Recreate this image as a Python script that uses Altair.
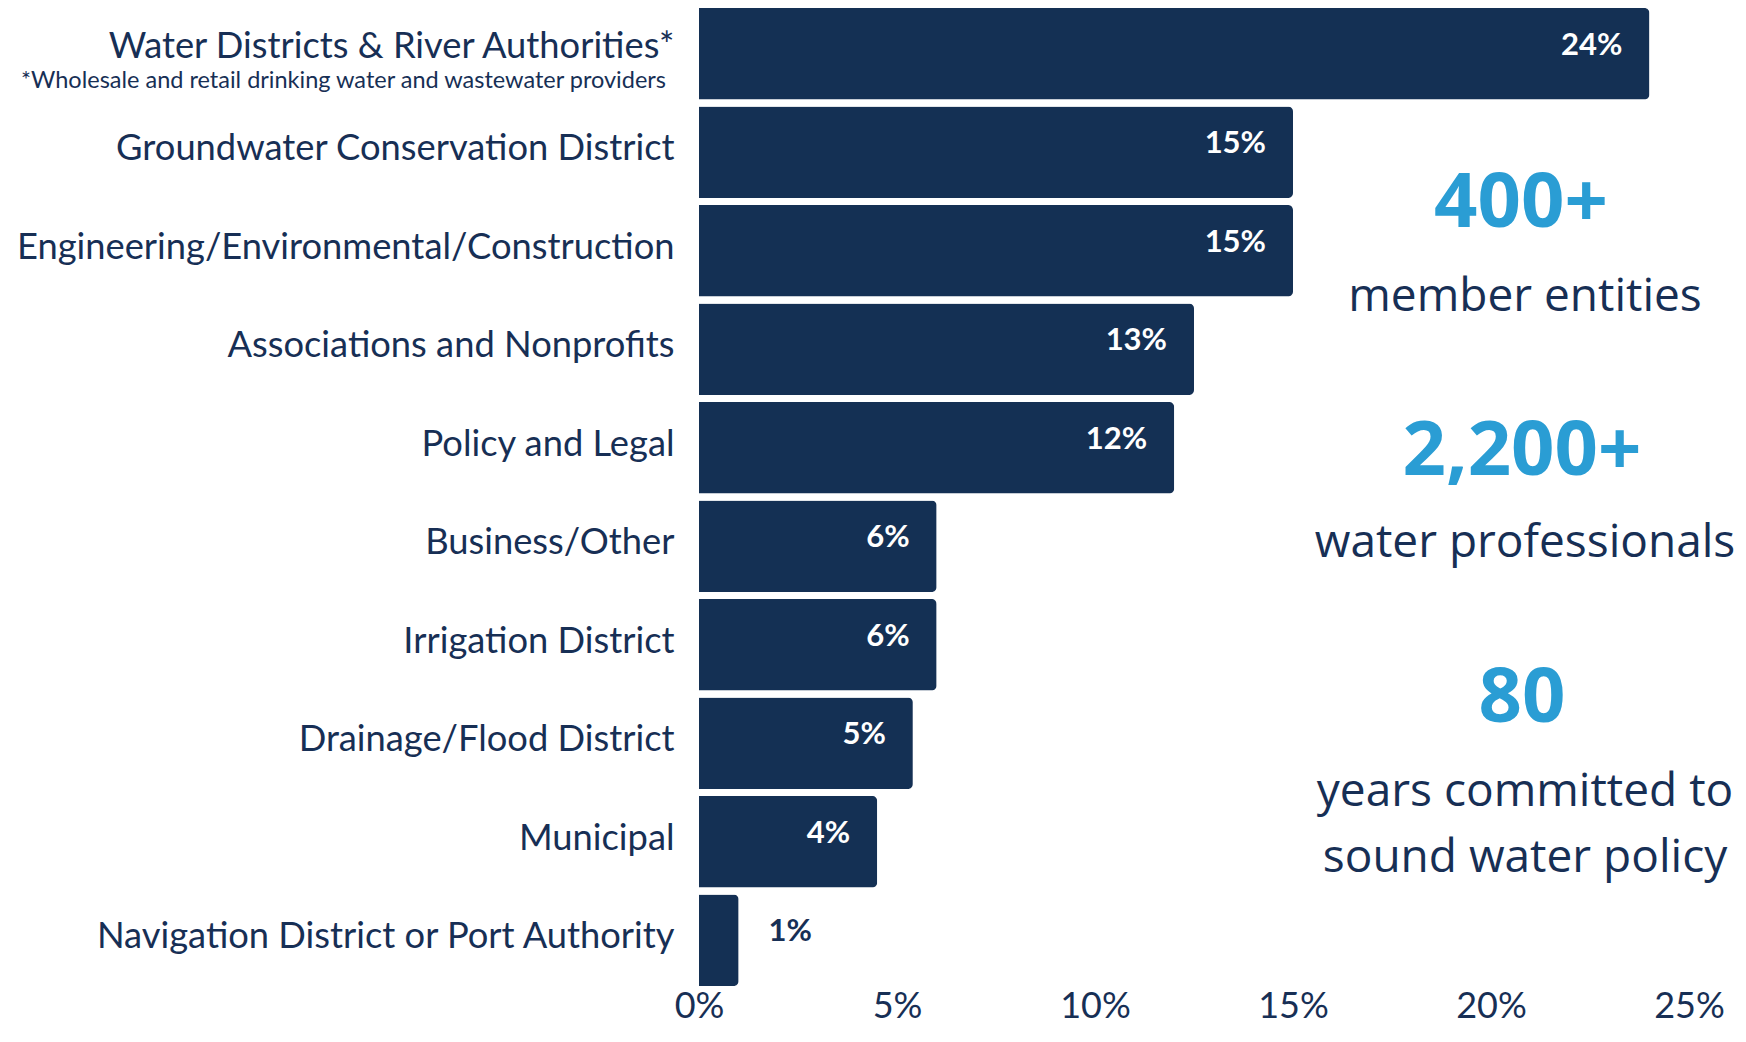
import altair as alt
import pandas as pd

CATEGORIES = [
    "Water Districts & River Authorities*",
    "Groundwater Conservation District",
    "Engineering/Environmental/Construction",
    "Associations and Nonprofits",
    "Policy and Legal",
    "Business/Other",
    "Irrigation District",
    "Drainage/Flood District",
    "Municipal",
    "Navigation District or Port Authority",
]
SHARES = [24.0, 15.0, 15.0, 12.5, 12.0, 6.0, 6.0, 5.4, 4.5, 1.0]
SHARE_LABELS = ["24%", "15%", "15%", "13%", "12%", "6%", "6%", "5%", "4%", "1%"]
FOOTNOTE = "*Wholesale and retail drinking water and wastewater providers"
X_TICKS = [0, 5, 10, 15, 20, 25]
STATS = ["400+", "2,200+", "80"]
STAT_CAPTIONS = ["member entities", "water professionals", "years committed to", "sound water policy"]

NAVY = "#143054"
TEXT = "#172f55"
BLUE = "#2a9dd4"
LEFT_FONT = "Lato"
RIGHT_FONT = "Open Sans"

df = pd.DataFrame({
    "category": CATEGORIES,
    "share": SHARES,
    "label": SHARE_LABELS,
})
df["inside"] = df["share"] >= 2
df["note"] = [FOOTNOTE] + [""] * (len(CATEGORIES) - 1)

first_cat = CATEGORIES[0].replace("'", "\\'")
y_enc = alt.Y(
    "category:N",
    sort=CATEGORIES,
    scale=alt.Scale(paddingInner=0.07, paddingOuter=0),
    axis=alt.Axis(
        title=None, ticks=False, domain=False, labelFontSize=36.3,
        labelFont=LEFT_FONT, labelColor=TEXT, labelPadding=25,
        labelLimit=800,
        labelOffset={"condition": {"test": f"datum.value === '{first_cat}'", "value": -7}, "value": -3},
    ),
)
x_enc = alt.X(
    "share:Q",
    scale=alt.Scale(domain=[0, 25], nice=False),
    axis=alt.Axis(
        title=None, values=X_TICKS, grid=False, ticks=False, domain=False,
        labelExpr="datum.value + '%'", labelFontSize=36, labelFont=LEFT_FONT,
        labelColor=TEXT, labelBaseline="alphabetic", labelPadding=31,
        labelFlush=False,
    ),
)

base = alt.Chart(df)

bars = base.mark_bar(color=NAVY, cornerRadiusTopRight=5, cornerRadiusBottomRight=5).encode(
    x=x_enc, y=y_enc
)

inside_labels = base.transform_filter("datum.inside").mark_text(
    align="right", baseline="middle", dx=-27, dy=-8, color="white",
    font=LEFT_FONT, fontWeight="bold", fontSize=31,
).encode(x="share:Q", y=alt.Y("category:N", sort=CATEGORIES), text="label:N")

outside_labels = base.transform_filter("!datum.inside").mark_text(
    align="left", baseline="middle", dx=30, dy=-8, color=TEXT,
    font=LEFT_FONT, fontWeight="bold", fontSize=31,
).encode(x="share:Q", y=alt.Y("category:N", sort=CATEGORIES), text="label:N")

footnote = base.transform_filter("datum.note != ''").mark_text(
    align="right", baseline="middle", dy=27, color=TEXT,
    font=LEFT_FONT, fontSize=23.5,
).encode(x=alt.value(-33), y=alt.Y("category:N", sort=CATEGORIES), text="note:N")


def stat_text(txt, xpx, ypx, size, bold, color):
    return alt.Chart(pd.DataFrame({"t": [txt]})).mark_text(
        align="center", baseline="alphabetic", font=RIGHT_FONT,
        fontSize=size, fontWeight="bold" if bold else "normal", color=color,
    ).encode(x=alt.value(xpx), y=alt.value(ypx), text="t:N")


stats = [
    stat_text(STATS[0], 822, 219, 76, True, BLUE),
    stat_text(STAT_CAPTIONS[0], 826, 303, 46, False, TEXT),
    stat_text(STATS[1], 823, 467, 76, True, BLUE),
    stat_text(STAT_CAPTIONS[1], 826, 549, 46, False, TEXT),
    stat_text(STATS[2], 823, 714, 76, True, BLUE),
    stat_text(STAT_CAPTIONS[2], 826, 798, 46, False, TEXT),
    stat_text(STAT_CAPTIONS[3], 826, 864, 46, False, TEXT),
]

chart = alt.layer(bars, inside_labels, outside_labels, footnote, *stats).properties(
    width=990,
    height=978,
    autosize=alt.AutoSizeParams(type="none"),
    padding={"left": 691, "top": 0, "right": 49, "bottom": 44},
    background="white",
).configure_view(stroke=None)

chart.save("out.html", embed_options={"renderer": "svg", "actions": False})
